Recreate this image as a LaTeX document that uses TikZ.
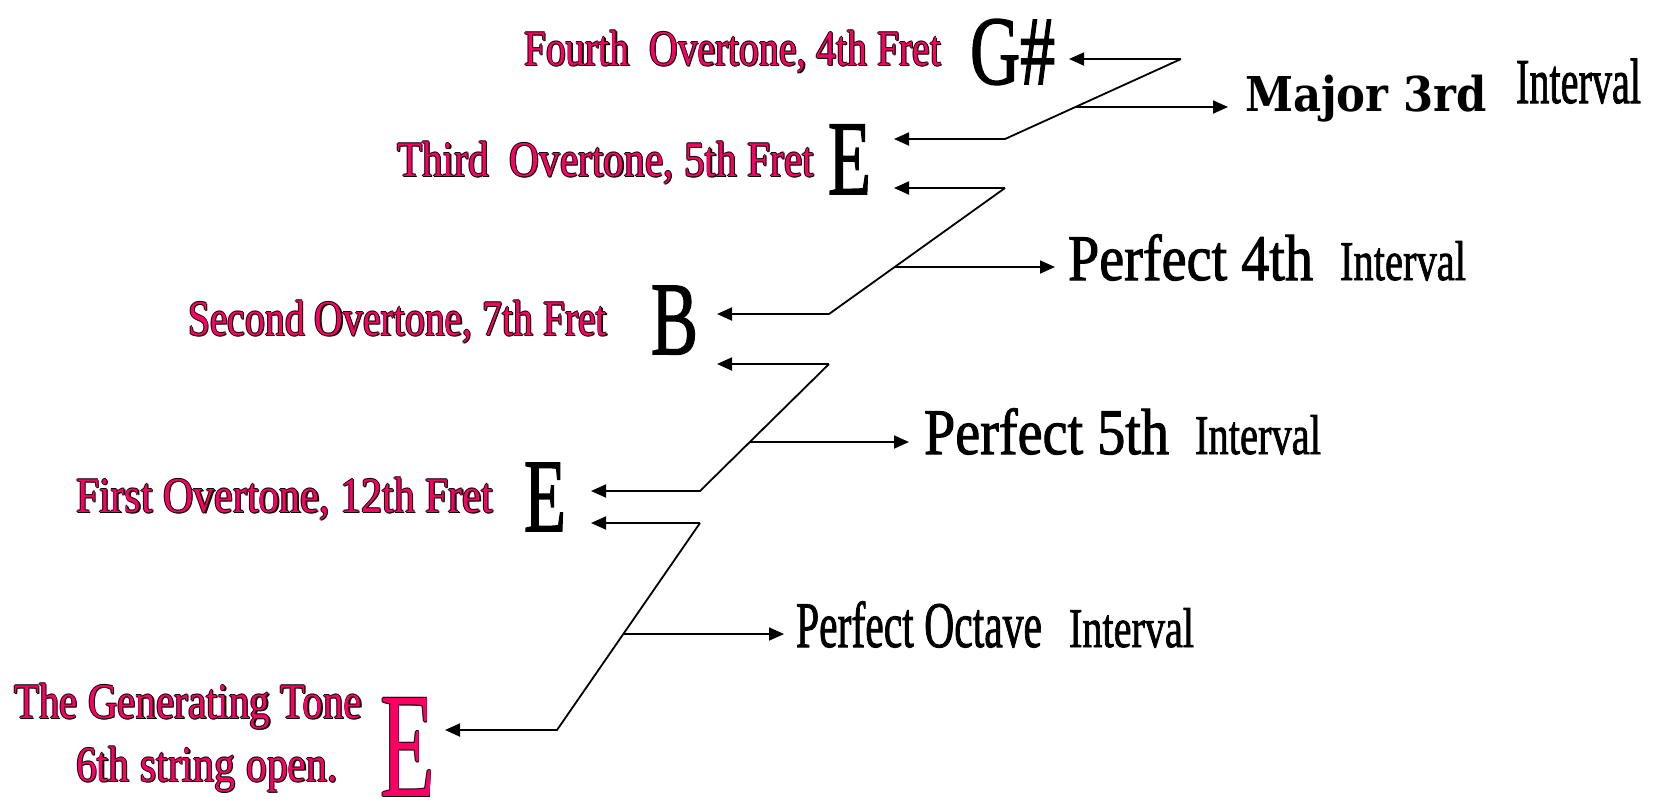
\documentclass[tikz,border=0pt]{standalone}
\usepackage{fontspec}
\usepackage{graphicx}
\setmainfont{Liberation Serif}
\newfontfamily\bkfont{DejaVu Serif}
\newfontfamily\hvy{Liberation Serif}[FakeBold=1.6]
\usetikzlibrary{arrows.meta,calc}
\definecolor{pinkred}{RGB}{250,0,100}
\newdimen\pxu \pxu=0.5pt
\newcommand\tx[3]{\resizebox{#2\pxu}{\height}{\fontsize{#1}{#1}\selectfont #3}}
\newcommand\ol[1]{%
 \makebox[0pt][l]{\color{black}\kern0.8pt\raisebox{-0.8pt}{#1}}%
 \makebox[0pt][l]{\color{black}\kern-0.5pt{#1}}%
 \makebox[0pt][l]{\color{black}\kern0.5pt{#1}}%
 \makebox[0pt][l]{\color{black}\raisebox{0.5pt}{#1}}%
 \makebox[0pt][l]{\color{black}\raisebox{-0.5pt}{#1}}%
 {\color{pinkred}#1}}
\begin{document}
\begin{tikzpicture}[x=0.5pt,y=-0.5pt,
  lbl/.style={anchor=base west,inner sep=0pt,outer sep=0pt},
  conn/.style={line width=0.9pt,line join=miter},
  arr/.style={conn,-{Triangle[length=7.5pt,width=6.5pt]}}]
\useasboundingbox (0,0) rectangle (1654,800);
% left labels
\node[lbl] (ov4) at (524,65) {\tx{25}{417}{\ol{Fourth~~Overtone, 4th Fret}}};
\node[lbl] (gs) at (970,84) {\tx{49}{85}{\hvy G\#}};
\node[lbl] (ov3) at (397,176) {\tx{25}{417}{\ol{Third~~Overtone, 5th Fret}}};
\node[lbl] (e3) at (828,194) {\tx{53}{43}{\hvy E}};
\node[lbl] (ov2) at (188,335) {\tx{25}{419}{\ol{Second Overtone, 7th Fret}}};
\node[lbl] (b2) at (651,354) {\tx{52}{47}{\hvy B}};
\node[lbl] (ov1) at (76,512) {\tx{25}{417}{\ol{First Overtone, 12th Fret}}};
\node[lbl] (e1) at (524,531) {\tx{52}{42}{\hvy E}};
\node[lbl] (gen1) at (14,718) {\tx{25}{348}{\ol{The Generating Tone}}};
\node[lbl] (gen2) at (76,781) {\tx{25}{262}{\ol{6th string open.}}};
\node[lbl,inner xsep=3pt] (e0) at (374,796) {\tx{75}{55}{\ol{E}}};
% right labels
\node[lbl] (maj) at (1245,111) {\tx{24}{242}{\bkfont\bfseries Major 3rd}};
\node[lbl] (int3) at (1516,103) {\tx{32}{125}{\hvy Interval}};
\node[lbl] (p4) at (1068,280) {\tx{32.5}{245}{\hvy Perfect 4th}};
\node[lbl] (int4) at (1340,280) {\tx{28}{126}{\hvy Interval}};
\node[lbl] (p5) at (924,454) {\tx{32.5}{245}{\hvy Perfect 5th}};
\node[lbl] (int5) at (1195,454) {\tx{28}{126}{\hvy Interval}};
\node[lbl] (p8) at (796,647) {\tx{32.5}{246}{\hvy Perfect Octave}};
\node[lbl] (int8) at (1069,647) {\tx{28}{125}{\hvy Interval}};
% connector points
\coordinate (a1) at (1181,59); \coordinate (t1a) at (1069,59);
\coordinate (b1) at (1005,139); \coordinate (t1b) at (894,139);
\coordinate (r1) at (1228,107);
\coordinate (a2) at (1005,188); \coordinate (t2a) at (894,188);
\coordinate (b2c) at (829,314); \coordinate (t2b) at (717,314);
\coordinate (r2) at (1055,267);
\coordinate (a3) at (829,364); \coordinate (t3a) at (717,364);
\coordinate (b3) at (700,491); \coordinate (t3b) at (591,491);
\coordinate (r3) at (909,442);
\coordinate (a4) at (700,523); \coordinate (t4a) at (591,523);
\coordinate (b4) at (557,730); \coordinate (t4b) at (445,730);
\coordinate (r4) at (784,634);
% major 3rd
\draw[arr] (a1) -- (t1a);
\draw[arr] (a1) -- (b1) -- (t1b);
\draw[arr] ($(a1)!0.6!(b1)$) -- (r1);
% perfect 4th
\draw[arr] (a2) -- (t2a);
\draw[arr] (a2) -- (b2c) -- (t2b);
\draw[arr] ($(a2)!0.627!(b2c)$) -- (r2);
% perfect 5th
\draw[arr] (a3) -- (t3a);
\draw[arr] (a3) -- (b3) -- (t3b);
\draw[arr] ($(a3)!0.614!(b3)$) -- (r3);
% octave
\draw[arr] (a4) -- (t4a);
\draw[arr] (a4) -- (b4) -- (t4b);
\draw[arr] ($(a4)!0.536!(b4)$) -- (r4);
\end{tikzpicture}
\end{document}
